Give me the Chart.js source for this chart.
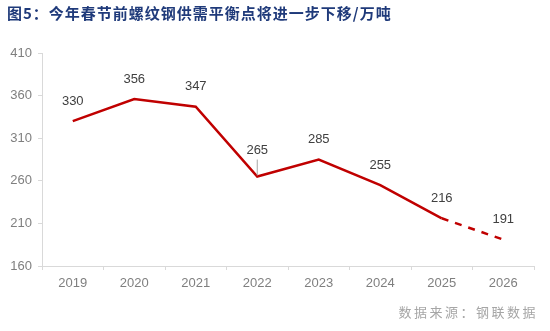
<!DOCTYPE html>
<html>
<head>
<meta charset="utf-8">
<script src="https://cdn.jsdelivr.net/npm/chart.js@4"></script>
<style>
    body { margin: 0; background: #fff; }
    .wrap { position: relative; width: 550px; height: 331px; overflow: hidden; }
    .title {
        position: absolute; left: 7px; top: 2px;
        font-family: "Noto Sans CJK SC", sans-serif;
        font-size: 15px; font-weight: bold; color: #1f3a7a;
        letter-spacing: 1px;
        white-space: nowrap;
    }
    .source {
        position: absolute; right: 12px; top: 302px;
        font-family: "Noto Sans CJK SC", sans-serif;
        font-size: 13px; color: #a6a6a6; letter-spacing: 2.5px;
    }
    canvas { position: absolute; left: 0; top: 0; }
</style>
</head>
<body>
<div class="wrap">
    <canvas id="chart" width="550" height="331"></canvas>
    <div class="title">图5：今年春节前螺纹钢供需平衡点将进一步下移/万吨</div>
    <div class="source">数据来源：钢联数据</div>
</div>
<script>
// Data
const years = ['2019', '2020', '2021', '2022', '2023', '2024', '2025', '2026'];
const balance = [330, 356, 347, 265, 285, 255, 216, 191];
const yTicks = [160, 210, 260, 310, 360, 410];

const forecastFrom = 6;   // segment after this index is dashed
const leaderIndex = 3;    // label lifted with a small leader line

// Draw value labels above each point
const valueLabels = {
    id: 'valueLabels',
    afterDatasetsDraw(chart) {
        const ctx = chart.ctx;
        const meta = chart.getDatasetMeta(0);
        ctx.save();
        ctx.font = '13px "Liberation Sans", Arial, sans-serif';
        ctx.fillStyle = '#404040';
        ctx.textAlign = 'center';
        ctx.textBaseline = 'middle';
        meta.data.forEach((pt, i) => {
            let dy = 20;
            if (i === leaderIndex) {
                dy = 26;
                ctx.strokeStyle = '#a6a6a6';
                ctx.lineWidth = 1;
                ctx.beginPath();
                ctx.moveTo(pt.x, pt.y - dy + 9);
                ctx.lineTo(pt.x, pt.y - 1);
                ctx.stroke();
            }
            ctx.fillText(String(balance[i]), pt.x, pt.y - dy);
        });
        ctx.restore();
    }
};

new Chart(document.getElementById('chart'), {
    type: 'line',
    data: {
        labels: years,
        datasets: [{
            data: balance,
            borderColor: '#c00000',
            borderWidth: 2.5,
            pointRadius: 0,
            tension: 0,
            segment: {
                borderDash: c => c.p0DataIndex >= forecastFrom ? [7, 7] : undefined
            }
        }]
    },
    options: {
        responsive: false,
        animation: false,
        layout: { padding: { top: 53, right: 16, left: 0, bottom: 0 } },
        plugins: { legend: { display: false }, tooltip: { enabled: false } },
        scales: {
            x: {
                offset: true,
                grid: {
                    display: true,
                    drawOnChartArea: false,
                    offset: true,
                    color: '#d9d9d9',
                    tickLength: 4
                },
                border: { color: '#d9d9d9', width: 1 },
                ticks: {
                    color: '#7f7f7f',
                    font: { size: 13, family: '"Liberation Sans", Arial, sans-serif' },
                    padding: 6
                },
                afterFit: s => { s.height = 65; }
            },
            y: {
                min: 160,
                max: 410,
                afterBuildTicks: s => { s.ticks = yTicks.map(v => ({ value: v })); },
                grid: {
                    display: true,
                    drawOnChartArea: false,
                    color: '#d9d9d9',
                    tickLength: 4
                },
                border: { color: '#d9d9d9', width: 1 },
                ticks: {
                    color: '#7f7f7f',
                    font: { size: 13, family: '"Liberation Sans", Arial, sans-serif' },
                    padding: 6
                },
                afterFit: s => { s.width = 42; }
            }
        }
    },
    plugins: [valueLabels]
});
</script>
</body>
</html>
